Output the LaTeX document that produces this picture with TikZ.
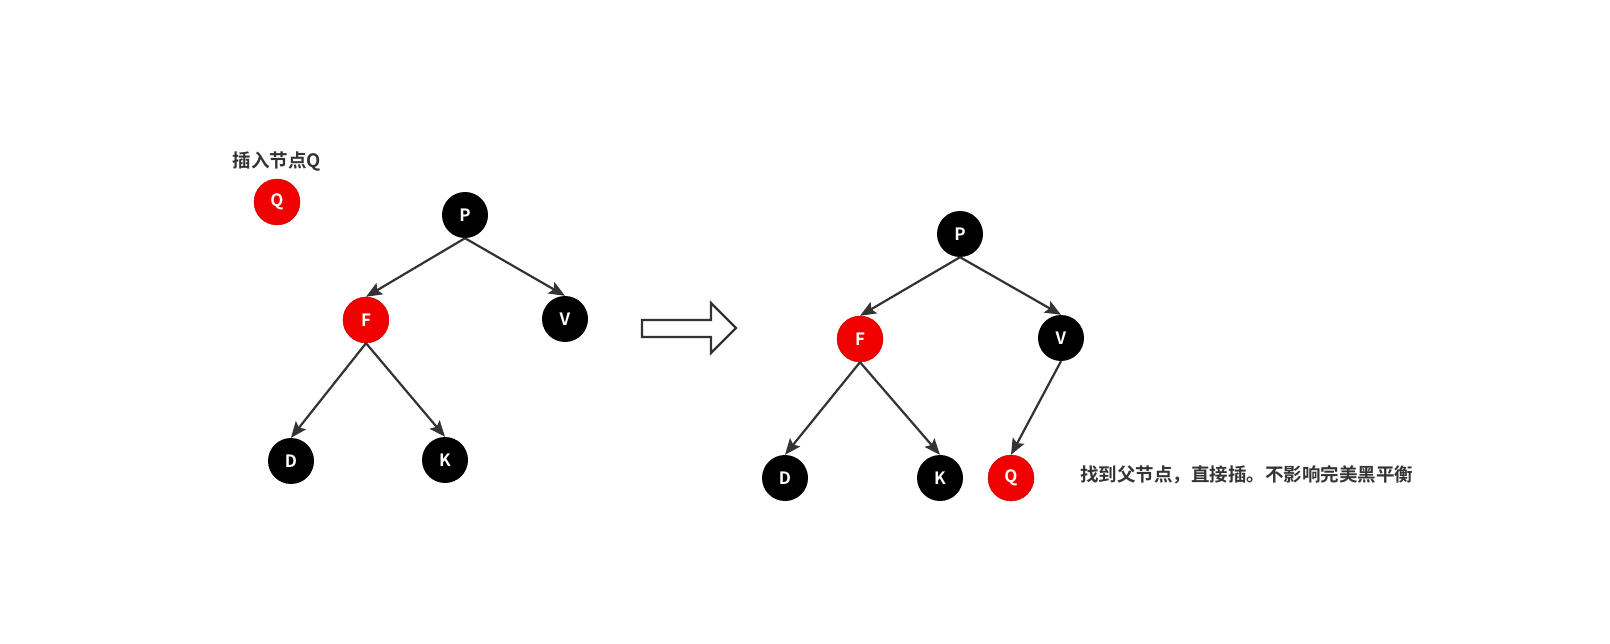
\documentclass[tikz,border=0pt]{standalone}
\usepackage{fontspec}
\setmainfont{Noto Sans CJK SC}[BoldFont={Noto Sans CJK SC Bold}]
\usepackage{tikz}
\usetikzlibrary{arrows.meta}
\definecolor{rbRed}{RGB}{240,0,0}
\definecolor{edgeGray}{RGB}{51,51,51}
\definecolor{textGray}{RGB}{51,51,51}

\begin{document}
\begin{tikzpicture}[x=1pt,y=-1pt,
    rednode/.style={circle,fill=rbRed,draw=rbRed!80!black,line width=0.4pt,minimum size=46pt,inner sep=0pt,text=white,font=\bfseries\fontsize{17}{17}\selectfont},
    blacknode/.style={circle,fill=black,minimum size=46pt,inner sep=0pt,text=white,font=\bfseries\fontsize{17}{17}\selectfont},
    link/.style={draw=edgeGray,line width=2.2pt,-{Stealth[length=16pt,width=13pt,inset=3pt]}},
    note/.style={text=textGray,font=\bfseries\fontsize{18.5}{18.5}\selectfont,inner sep=0pt}]
  \useasboundingbox (0,0) rectangle (1610,644);
  % before the insertion
  \node[note] (title) at (277,161) {插入节点Q};
  \node[rednode] (Qnew) at (277,202) {Q};
  \node[blacknode] (P1) at (465,215) {P};
  \node[rednode] (F1) at (366,320) {F};
  \node[blacknode] (V1) at (565,319) {V};
  \node[blacknode] (D1) at (291,461) {D};
  \node[blacknode] (K1) at (445,460) {K};
  \draw[link] (P1.south) -- (F1.north);
  \draw[link] (P1.south) -- (V1.north);
  \draw[link] (F1.south) -- (D1.north);
  \draw[link] (F1.south) -- (K1.north);
  % hollow arrow between the two trees
  \draw[edgeGray,line width=2.2pt] (642,320) -- (711,320) -- (711,303) -- (736,328)
    -- (711,353) -- (711,337) -- (642,337) -- cycle;
  % after the insertion
  \node[blacknode] (P2) at (960,234) {P};
  \node[rednode] (F2) at (860,339) {F};
  \node[blacknode] (V2) at (1061,338) {V};
  \node[blacknode] (D2) at (785,478) {D};
  \node[blacknode] (K2) at (940,478) {K};
  \node[rednode] (Q2) at (1011,478) {Q};
  \draw[link] (P2.south) -- (F2.north);
  \draw[link] (P2.south) -- (V2.north);
  \draw[link] (F2.south) -- (D2.north);
  \draw[link] (F2.south) -- (K2.north);
  \draw[link] (V2.south) -- (Q2.north);
  \node[note,anchor=west] (result) at (1080,475) {找到父节点，直接插。不影响完美黑平衡};
\end{tikzpicture}
\end{document}
